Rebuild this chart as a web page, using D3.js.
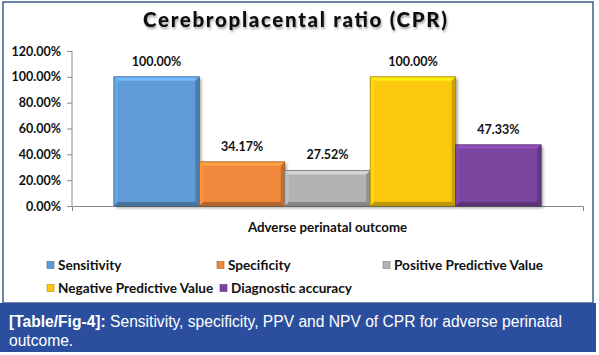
<!DOCTYPE html>
<html><head><meta charset="utf-8">
<script src="https://cdn.jsdelivr.net/npm/d3@7"></script>
<style>body{margin:0;background:#fff;}svg{display:block;}</style>
</head><body>
<svg id="c" width="599" height="355"></svg>
<script>
const title = "Cerebroplacental ratio (CPR)";
const category = "Adverse perinatal outcome";
const series = ["Sensitivity","Specificity","Positive Predictive Value","Negative Predictive Value","Diagnostic accuracy"];
const values = [1.0, 0.3417, 0.2752, 1.0, 0.4733];
const colors = ["#5e9bd6","#f0883a","#b2b2b2","#fcc80c","#7a449e"];
const yTicks = [0,0.2,0.4,0.6,0.8,1.0,1.2];
const captionBold = "[Table/Fig-4]:";
const captionLine1 = " Sensitivity, specificity, PPV and NPV of CPR for adverse perinatal";
const captionLine2 = "outcome.";

const svg = d3.select("#c");
const font = "Lato, 'Liberation Sans', sans-serif";
const defs = svg.append("defs");
const f = defs.append("filter").attr("id","sh").attr("x","-20%").attr("y","-20%").attr("width","150%").attr("height","150%");
f.append("feDropShadow").attr("dx",2).attr("dy",2).attr("stdDeviation",1.5).attr("flood-color","#000").attr("flood-opacity",0.35);
const ft = defs.append("filter").attr("id","tsh").attr("x","-10%").attr("y","-30%").attr("width","120%").attr("height","180%");
ft.append("feDropShadow").attr("dx",1).attr("dy",2).attr("stdDeviation",1.2).attr("flood-color","#000").attr("flood-opacity",0.35);

// chart frame
svg.append("rect").attr("x",3).attr("y",2).attr("width",590).attr("height",301)
  .attr("fill","#fff").attr("stroke","#3e5e8e").attr("stroke-width",1.5);

const x = d3.scaleBand().domain(series).range([72,583]).paddingInner(0).paddingOuter(0.49);
const y = d3.scaleLinear().domain([0,1.2]).range([206,51]);

// title
svg.append("text").attr("x",295).attr("y",27).attr("text-anchor","middle")
  .attr("font-family",font).attr("font-weight",900).attr("font-size",20.5)
  .attr("textLength",304).attr("lengthAdjust","spacing").attr("filter","url(#tsh)")
  .attr("fill","#111").text(title);

// y axis
const yAxis = svg.append("g").attr("transform","translate(72,0)")
  .call(d3.axisLeft(y).tickValues(yTicks).tickFormat(d3.format(".2%")).tickSizeOuter(0).tickSize(5));
yAxis.select(".domain").attr("stroke","#8a8a8a").attr("d","M0,"+y(1.2)+"V"+y(0));
yAxis.selectAll(".tick line").attr("stroke","#8a8a8a");
yAxis.selectAll(".tick text").attr("font-family",font).attr("font-weight","bold")
  .attr("font-size",12.5).attr("fill","#111").attr("x",-11);

// x axis
const xc = d3.scaleBand().domain([category]).range([72,583]);
const xAxis = svg.append("g").attr("transform","translate(0,206)")
  .call(d3.axisBottom(xc).tickSize(0).tickSizeOuter(5));
xAxis.select(".domain").attr("stroke","#8a8a8a");
xAxis.selectAll(".tick text").attr("font-family",font).attr("font-weight","bold")
  .attr("font-size",13.3).attr("fill","#111").attr("dy",0).attr("y",26);

// bars with bevel
const b = 4;
const gBars = svg.append("g");
series.forEach((s,i)=>{
  const x0 = x(s), x1 = x(s)+x.bandwidth(), y0 = y(values[i]), y1 = y(0);
  const c = d3.color(colors[i]);
  const g = gBars.append("g");
  g.append("rect").attr("x",x0).attr("y",y0).attr("width",x1-x0).attr("height",y1-y0)
    .attr("fill",colors[i]).attr("filter","url(#sh)");
  const poly = (pts,col)=>g.append("polygon").attr("points",pts.map(p=>p.join(",")).join(" ")).attr("fill",col);
  poly([[x0,y0],[x1,y0],[x1-b,y0+b],[x0+b,y0+b]], c.brighter(0.5));
  poly([[x0,y0],[x0+b,y0+b],[x0+b,y1-b],[x0,y1]], c.brighter(0.2));
  poly([[x1,y0],[x1,y1],[x1-b,y1-b],[x1-b,y0+b]], c.darker(0.6));
  poly([[x0,y1],[x1,y1],[x1-b,y1-b],[x0+b,y1-b]], c.darker(0.8));
  g.append("rect").attr("x",x0).attr("y",y0).attr("width",x1-x0).attr("height",y1-y0)
    .attr("fill","none").attr("stroke",c.darker(1.2)).attr("stroke-width",0.8);
  svg.append("text").attr("x",(x0+x1)/2).attr("y",y0-11).attr("text-anchor","middle")
    .attr("font-family",font).attr("font-weight","bold").attr("font-size",12.5).attr("fill","#111")
    .text(d3.format(".2%")(values[i]));
});

// legend
const legPos = [[47,265],[217,265],[383,265],[47,288],[220,288]];
series.forEach((s,i)=>{
  const [lx,ly] = legPos[i];
  const c = d3.color(colors[i]);
  svg.append("rect").attr("x",lx).attr("y",ly-3.5).attr("width",7).attr("height",7)
    .attr("fill",colors[i]).attr("stroke",c.darker(1)).attr("stroke-width",0.6);
  svg.append("text").attr("x",lx+11).attr("y",ly+4.5)
    .attr("font-family",font).attr("font-weight","bold").attr("font-size",13.6).attr("fill","#111").text(s);
});

// caption
svg.append("rect").attr("x",0).attr("y",303).attr("width",596).attr("height",49).attr("fill","#2b4f9e");
const t1 = svg.append("text").attr("x",9).attr("y",327)
  .attr("font-family","'Liberation Sans', Arial, sans-serif").attr("font-size",15.6).attr("fill","#fff");
t1.append("tspan").attr("font-weight","bold").text(captionBold);
t1.append("tspan").text(captionLine1);
svg.append("text").attr("x",9).attr("y",346)
  .attr("font-family","'Liberation Sans', Arial, sans-serif").attr("font-size",15.6).attr("fill","#fff").text(captionLine2);
</script>
</body></html>
